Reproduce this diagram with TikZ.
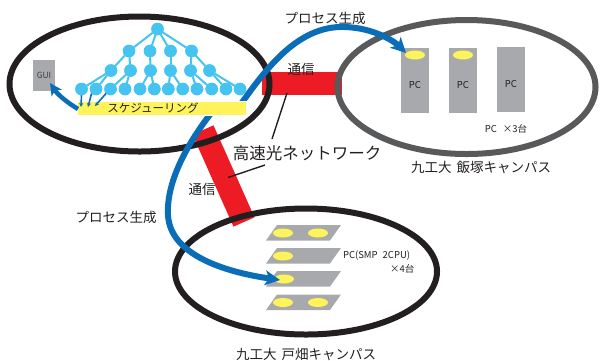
\documentclass[tikz,border=0pt]{standalone}
\usepackage{fontspec}
\newfontfamily\cjk{Noto Sans CJK JP}
\usetikzlibrary{shapes.geometric,arrows.meta}
\definecolor{blueA}{HTML}{0A6DB7}
\definecolor{treeB}{HTML}{45C4F1}
\definecolor{redA}{HTML}{ED1C24}
\definecolor{yelA}{HTML}{FFF35C}
\definecolor{pcG}{HTML}{A7A9AC}
\definecolor{blkA}{HTML}{231F20}
\definecolor{grA}{HTML}{58595B}
\begin{document}
\begin{tikzpicture}[x=1pt,y=-1pt,
  every node/.style={font=\cjk, inner sep=0pt, outer sep=0pt, text=blkA},
  campus/.style={ellipse, draw=blkA, line width=6pt, inner sep=0pt},
  link/.style={redA, line width=23pt},
  lead/.style={blkA, line width=1.4pt},
  lbl/.style={font=\cjk\fontsize{13.5}{15}\selectfont},
  biglbl/.style={font=\cjk\fontsize{16.5}{18}\selectfont},
  small/.style={font=\cjk\fontsize{9.5}{11}\selectfont},
  tower/.style={fill=pcG, minimum width=28pt, minimum height=65pt},
  yel/.style={ellipse, fill=yelA, minimum width=20pt, minimum height=9pt},
  flow/.style={blueA, line width=6pt, -{Stealth[length=15pt,width=15pt,inset=4pt]}},
  tn/.style={circle, fill=treeB, minimum size=12.5pt},
  te/.style={treeB, line width=2pt},
  tick/.style={blueA, line width=1.6pt, -{Stealth[length=4pt,width=4pt]}}
]
\useasboundingbox (0,0) rectangle (601,360);

% red network links
\coordinate (ra) at (262,83.5);
\coordinate (rb) at (342,83.5);
\coordinate (rc) at (203,130);
\coordinate (rd) at (244,222);
\draw[link] (ra) -- (rb);
\draw[link] (rc) -- (rd);

% campuses
\node[campus, minimum width=260pt, minimum height=135pt] (L) at (139.5,84) {};
\node[campus, draw=grA, minimum width=258pt, minimum height=134pt] (R) at (466.5,87) {};
\node[campus, minimum width=262pt, minimum height=126pt] (B) at (306,271.5) {};

% Iizuka PCs
\node[tower] (pc1) at (415,80.5) {};
\node[tower] (pc2) at (463,80.5) {};
\node[tower] (pc3) at (511,79.5) {};
\node[yel] (ye1) at (415,55) {};
\node[yel] (ye2) at (463,55) {};
\node[small] at (415,85) {PC};
\node[small] at (463,85) {PC};
\node[small] at (511,84) {PC};
\node[small] (pcn) at (506,129) {PC\hspace{6pt}×3台};

% Tobata SMP PCs
\foreach \i/\y in {1/225,2/248,3/271,4/294.5}{
  \fill[pcG] (277,\y) -- (341,\y) -- (330,\y+15.5) -- (266,\y+15.5) -- cycle;
}
\node[yel] (s1a) at (283,233) {};
\node[yel] (s1b) at (318,233) {};
\node[yel] (s2a) at (283,256) {};
\node[yel] (s3a) at (284,279) {};
\node[yel] (s4a) at (283,302.5) {};
\node[yel] (s4b) at (318,302.5) {};
\node[small, anchor=west] (smp) at (343,256) {PC(SMP\hspace{5pt}2CPU)};
\node[small, anchor=west] (smp4) at (390,269) {×4台};

% labels
\node[biglbl] (net) at (307,153) {高速光ネットワーク};
\coordinate (l1a) at (272,139);
\coordinate (l1b) at (287,93);
\coordinate (l2a) at (265,165);
\coordinate (l2b) at (228,177.5);
\draw[lead] (l1a) -- (l1b);
\draw[lead] (l2a) -- (l2b);
\node[lbl] (tu1) at (301,69) {通信};
\node[lbl] (tu2) at (202,189) {通信};
\node[lbl] (ps1) at (325,18) {プロセス生成};
\node[lbl] (ps2) at (116,217) {プロセス生成};
\node[lbl] (iz) at (481,167) {九工大\hspace{5pt}飯塚キャンパス};
\node[lbl] (tb) at (306,354) {九工大\hspace{5pt}戸畑キャンパス};

% process spawn arrows
\coordinate (u0) at (238,108);
\coordinate (u1) at (345,27);
\coordinate (d0) at (212,112);
\coordinate (d1) at (168,215);
\coordinate (d2) at (280,280);
\coordinate (u2) at (406,53);
\draw[flow] (u0) .. controls (262,75) and (295,25) .. (u1) .. controls (375,28) and (395,42) .. (u2);
\draw[flow] (d0) .. controls (190,140) and (166,180) .. (d1) .. controls (170,255) and (225,272) .. (d2);

% GUI
\node[fill=pcG, minimum width=22pt, minimum height=31pt] (gui) at (44,75.5) {};
\node[font=\cjk\fontsize{8.5}{10}\selectfont, text=black!75] at (44,75) {GUI};

% scheduling bar
\node[fill=yelA, draw=white, line width=1.5pt, minimum width=170pt, minimum height=14pt] (sch) at (162,108.5) {};
\node[font=\cjk\fontsize{11.5}{13}\selectfont] at (153,108.5) {スケジューリング};

\coordinate (g0) at (78,109);
\coordinate (g1) at (50,83);
\draw[blueA, line width=4.5pt, -{Stealth[length=12pt,width=12pt,inset=3pt]}] (g0) .. controls (68,103) and (58,95) .. (g1);

% task tree
\node[tn] (r) at (157.5,29) {};
\foreach \n/\x in {1/129,2/150,3/170.5,4/191.5}{\node[tn] (a\n) at (\x,51) {};}
\foreach \n/\x in {1/111,2/130.5,3/150.5,4/170.5,5/190.5,6/209.5}{\node[tn] (b\n) at (\x,70.5) {};}
\foreach \n/\x in {1/81.5,2/96,3/110.5,4/125,5/140,6/154.3,7/168.3,8/182.7,9/197,10/211.7,11/226,12/240}{\node[tn] (c\n) at (\x,89) {};}
\foreach \a in {1,2,3,4}{\draw[te] (r) -- (a\a);}
\draw[te] (a1) -- (b1); \draw[te] (a1) -- (b2); \draw[te] (a2) -- (b3);
\draw[te] (a3) -- (b4); \draw[te] (a4) -- (b5); \draw[te] (a4) -- (b6);
\foreach \b [evaluate=\b as \p using int(2*\b-1), evaluate=\b as \q using int(2*\b)] in {1,...,6}{
  \draw[te] (b\b) -- (c\p); \draw[te] (b\b) -- (c\q);
}
% redraw nodes on top of edges
\node[tn] at (r) {};
\foreach \n in {1,...,4}{\node[tn] at (a\n) {};}
\foreach \n in {1,...,6}{\node[tn] at (b\n) {};}
\foreach \n in {1,...,12}{\node[tn] at (c\n) {};}

% tasks into scheduler
\coordinate (t1) at (81,107);
\coordinate (t2) at (88,107);
\coordinate (t3) at (95,106);
\draw[tick] (c1.south) -- (t1);
\draw[tick] (c2.south west) -- (t2);
\draw[tick] (c3.south west) -- (t3);
\end{tikzpicture}
\end{document}
